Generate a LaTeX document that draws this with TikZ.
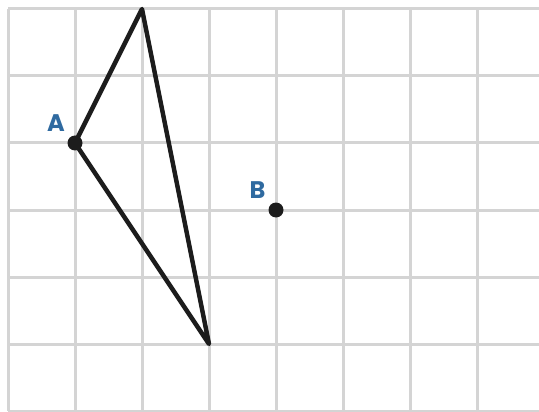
\documentclass[tikz,border=0pt]{standalone}
\usepackage{fontspec}
\setmainfont{Poppins}
\definecolor{gridgray}{HTML}{D4D4D4}
\definecolor{labelblue}{HTML}{2F6AA0}
\definecolor{inkblack}{HTML}{1C1C1C}
\begin{document}
\begin{tikzpicture}[x=1pt,y=-1pt,
  gridline/.style={draw=gridgray,line width=3pt},
  edge/.style={draw=inkblack,line width=4.5pt,line join=round,line cap=round},
  dot/.style={circle,fill=inkblack,inner sep=0pt,minimum size=15pt},
  lab/.style={text=labelblue,font=\fontsize{24}{24}\selectfont\bfseries,inner sep=0pt,anchor=center}]
\useasboundingbox (0,0) rectangle (539,412);
\fill[white] (0,0) rectangle (539,412);
% grid
\foreach \i in {0,...,8} {\draw[gridline] (8+67*\i,9) -- (8+67*\i,411);}
\foreach \j in {0,...,6} {\draw[gridline] (8,9+67*\j) -- (560,9+67*\j);}
% points
\coordinate (T) at (142,9);
\coordinate (P) at (75,143);
\coordinate (Q) at (209,344);
\draw[edge] (T) -- (P) -- (Q) -- cycle;
\node[dot] (A) at (P) {};
\node[dot] (B) at (276,210) {};
\node[lab] (la) at (56,123) {A};
\node[lab] (lb) at (257.5,190) {B};
\end{tikzpicture}
\end{document}
